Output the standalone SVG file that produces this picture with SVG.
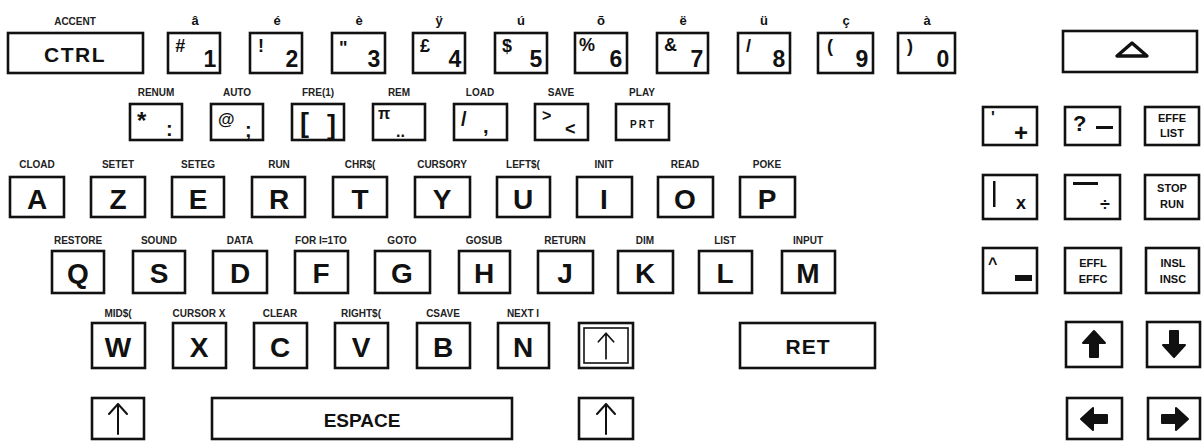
<svg xmlns="http://www.w3.org/2000/svg" width="1202" height="441" viewBox="0 0 1202 441">
<style>
.k{fill:#fff;stroke:#111;stroke-width:2.6}
.ki{fill:none;stroke:#111;stroke-width:1.6}
text{font-family:"Liberation Sans",Arial,sans-serif;font-weight:bold;fill:#111}
.lbl{font-size:10px;text-anchor:middle;fill:#222}
.acc{font-size:13px;text-anchor:middle}
.big{font-size:28px;text-anchor:middle}
.dg{font-size:23px;text-anchor:middle}
.sy{font-size:18px}
.sm{font-size:11px;text-anchor:middle}
.thin{fill:none;stroke:#111;stroke-width:2;stroke-linecap:round;stroke-linejoin:round}
.fa{fill:#111;stroke:#111;stroke-width:2;stroke-linejoin:round}
</style>
<defs>
<path id="fat" d="M0 -13 L11 -1 L4 -1 L4 13 L-4 13 L-4 -1 L-11 -1 Z"/>
<path id="thinup" d="M0 -15 L0 15 M-9 -5 L0 -15 L9 -5"/>
</defs>
<rect width="1202" height="441" fill="#fff"/>

<!-- Row 1 -->
<g id="key-ctrl"><text class="lbl" x="75" y="25">ACCENT</text><rect class="k" x="8" y="33" width="135" height="40"/><text x="75" y="62" font-size="21" text-anchor="middle" letter-spacing="1.5">CTRL</text></g>
<g id="key-1"><text class="acc" x="195" y="25">â</text><rect class="k" x="168" y="33" width="52" height="40"/><text class="sy" x="175" y="52" font-style="italic">#</text><text class="dg" x="210" y="67">1</text></g>
<g id="key-2"><text class="acc" x="277" y="25">é</text><rect class="k" x="250" y="33" width="52" height="40"/><text class="sy" x="258" y="52">!</text><text class="dg" x="292" y="67">2</text></g>
<g id="key-3"><text class="acc" x="359" y="25">è</text><rect class="k" x="332" y="33" width="53" height="40"/><text class="sy" x="339" y="54">"</text><text class="dg" x="374" y="67">3</text></g>
<g id="key-4"><text class="acc" x="439" y="25">ÿ</text><rect class="k" x="413" y="33" width="52" height="40"/><text class="sy" x="420" y="52">£</text><text class="dg" x="455" y="67">4</text></g>
<g id="key-5"><text class="acc" x="521" y="25">ú</text><rect class="k" x="495" y="33" width="52" height="40"/><text class="sy" x="502" y="52">$</text><text class="dg" x="536" y="67">5</text></g>
<g id="key-6"><text class="acc" x="601" y="25">õ</text><rect class="k" x="575" y="33" width="52" height="40"/><text class="sy" x="579" y="51">%</text><text class="dg" x="616" y="67">6</text></g>
<g id="key-7"><text class="acc" x="683" y="25">ë</text><rect class="k" x="657" y="33" width="51" height="40"/><text class="sy" x="664" y="51">&amp;</text><text class="dg" x="697" y="67">7</text></g>
<g id="key-8"><text class="acc" x="764" y="25">ü</text><rect class="k" x="738" y="33" width="52" height="40"/><text class="sy" x="746" y="52">/</text><text class="dg" x="779" y="67">8</text></g>
<g id="key-9"><text class="acc" x="846" y="25">ç</text><rect class="k" x="818" y="33" width="55" height="40"/><text class="sy" x="827" y="52">(</text><text class="dg" x="862" y="67">9</text></g>
<g id="key-0"><text class="acc" x="927" y="25">à</text><rect class="k" x="898" y="33" width="57" height="40"/><text class="sy" x="907" y="52">)</text><text class="dg" x="943" y="67">0</text></g>
<g id="key-up-triangle"><rect class="k" x="1063" y="31" width="134" height="41"/><path d="M1117 56 L1132 43 L1147 56 Z" fill="none" stroke="#111" stroke-width="3.4" stroke-linejoin="round"/></g>

<!-- Row 2 -->
<g id="key-colon"><text class="lbl" x="156" y="96">RENUM</text><rect class="k" x="130" y="104" width="52" height="36"/><text x="137" y="129" font-size="24">*</text><text x="166" y="136" font-size="20">:</text></g>
<g id="key-semicolon"><text class="lbl" x="237" y="96">AUTO</text><rect class="k" x="211" y="104" width="52" height="36"/><text x="218" y="125" font-size="17">@</text><text x="245" y="137" font-size="20">;</text></g>
<g id="key-bracket"><text class="lbl" x="318" y="96">FRE(1)</text><rect class="k" x="292" y="104" width="52" height="36"/><text x="300" y="132" font-size="27">[</text><text x="327" y="134" font-size="27">]</text></g>
<g id="key-pi"><text class="lbl" x="399" y="96">REM</text><rect class="k" x="373" y="104" width="52" height="36"/><text x="378" y="119" font-size="16">π</text><text x="396" y="137" font-size="16">..</text></g>
<g id="key-comma"><text class="lbl" x="480" y="96">LOAD</text><rect class="k" x="454" y="104" width="53" height="36"/><text x="461" y="126" font-size="20">/</text><text x="483" y="133" font-size="20">,</text></g>
<g id="key-lt"><text class="lbl" x="561" y="96">SAVE</text><rect class="k" x="535" y="104" width="53" height="36"/><text x="542" y="121" font-size="16">&gt;</text><text x="565" y="135" font-size="18">&lt;</text></g>
<g id="key-prt"><text class="lbl" x="642" y="96">PLAY</text><rect class="k" x="616" y="104" width="53" height="36"/><text x="643" y="128" font-size="10" text-anchor="middle" letter-spacing="2">PRT</text></g>

<!-- Row 3 -->
<g id="key-a"><text class="lbl" x="37" y="168">CLOAD</text><rect class="k" x="10" y="177" width="54" height="40"/><text class="big" x="37" y="209">A</text></g>
<g id="key-z"><text class="lbl" x="118" y="168">SETET</text><rect class="k" x="91" y="177" width="54" height="40"/><text class="big" x="118" y="209">Z</text></g>
<g id="key-e"><text class="lbl" x="198" y="168">SETEG</text><rect class="k" x="172" y="177" width="52" height="40"/><text class="big" x="198" y="209">E</text></g>
<g id="key-r"><text class="lbl" x="279" y="168">RUN</text><rect class="k" x="252" y="177" width="53" height="40"/><text class="big" x="279" y="209">R</text></g>
<g id="key-t"><text class="lbl" x="360" y="168">CHR$(</text><rect class="k" x="333" y="177" width="54" height="40"/><text class="big" x="360" y="209">T</text></g>
<g id="key-y"><text class="lbl" x="442" y="168">CURSORY</text><rect class="k" x="415" y="177" width="55" height="40"/><text class="big" x="442" y="209">Y</text></g>
<g id="key-u"><text class="lbl" x="523" y="168">LEFT$(</text><rect class="k" x="497" y="177" width="53" height="40"/><text class="big" x="523" y="209">U</text></g>
<g id="key-i"><text class="lbl" x="604" y="168">INIT</text><rect class="k" x="577" y="177" width="55" height="40"/><text class="big" x="604" y="209">I</text></g>
<g id="key-o"><text class="lbl" x="685" y="168">READ</text><rect class="k" x="658" y="177" width="55" height="40"/><text class="big" x="685" y="209">O</text></g>
<g id="key-p"><text class="lbl" x="767" y="168">POKE</text><rect class="k" x="740" y="177" width="55" height="40"/><text class="big" x="767" y="209">P</text></g>

<!-- Row 4 -->
<g id="key-q"><text class="lbl" x="78" y="244">RESTORE</text><rect class="k" x="52" y="251" width="52" height="42"/><text class="big" x="78" y="283">Q</text></g>
<g id="key-s"><text class="lbl" x="159" y="244">SOUND</text><rect class="k" x="133" y="251" width="52" height="42"/><text class="big" x="159" y="283">S</text></g>
<g id="key-d"><text class="lbl" x="240" y="244">DATA</text><rect class="k" x="213" y="251" width="54" height="42"/><text class="big" x="240" y="283">D</text></g>
<g id="key-f"><text class="lbl" x="321" y="244">FOR I=1TO</text><rect class="k" x="295" y="251" width="53" height="42"/><text class="big" x="321" y="283">F</text></g>
<g id="key-g"><text class="lbl" x="402" y="244">GOTO</text><rect class="k" x="375" y="251" width="55" height="42"/><text class="big" x="402" y="283">G</text></g>
<g id="key-h"><text class="lbl" x="484" y="244">GOSUB</text><rect class="k" x="459" y="251" width="51" height="42"/><text class="big" x="484" y="283">H</text></g>
<g id="key-j"><text class="lbl" x="565" y="244">RETURN</text><rect class="k" x="538" y="251" width="55" height="42"/><text class="big" x="565" y="283">J</text></g>
<g id="key-k"><text class="lbl" x="645" y="244">DIM</text><rect class="k" x="618" y="251" width="55" height="42"/><text class="big" x="645" y="283">K</text></g>
<g id="key-l"><text class="lbl" x="725" y="244">LIST</text><rect class="k" x="699" y="251" width="53" height="42"/><text class="big" x="725" y="283">L</text></g>
<g id="key-m"><text class="lbl" x="808" y="244">INPUT</text><rect class="k" x="782" y="251" width="53" height="42"/><text class="big" x="808" y="283">M</text></g>

<!-- Row 5 -->
<g id="key-w"><text class="lbl" x="118" y="317">MID$(</text><rect class="k" x="92" y="323" width="53" height="45"/><text class="big" x="118" y="357">W</text></g>
<g id="key-x"><text class="lbl" x="199" y="317">CURSOR X</text><rect class="k" x="173" y="323" width="53" height="45"/><text class="big" x="199" y="357">X</text></g>
<g id="key-c"><text class="lbl" x="280" y="317">CLEAR</text><rect class="k" x="254" y="323" width="53" height="45"/><text class="big" x="280" y="357">C</text></g>
<g id="key-v"><text class="lbl" x="361" y="317">RIGHT$(</text><rect class="k" x="335" y="323" width="53" height="45"/><text class="big" x="361" y="357">V</text></g>
<g id="key-b"><text class="lbl" x="443" y="317">CSAVE</text><rect class="k" x="417" y="323" width="53" height="45"/><text class="big" x="443" y="357">B</text></g>
<g id="key-n"><text class="lbl" x="523" y="317">NEXT I</text><rect class="k" x="498" y="323" width="51" height="45"/><text class="big" x="523" y="357">N</text></g>
<g id="key-shiftlock"><rect class="k" x="579" y="323" width="54" height="45"/><rect class="ki" x="584" y="328" width="44" height="35"/><use href="#thinup" class="thin" transform="translate(606 346) scale(0.85)"/></g>
<g id="key-ret"><rect class="k" x="740" y="323" width="135" height="45"/><text x="808" y="354" font-size="21" text-anchor="middle" letter-spacing="1">RET</text></g>

<!-- Row 6 -->
<g id="key-shift-left"><rect class="k" x="92" y="398" width="52" height="41"/><use href="#thinup" class="thin" transform="translate(118 419)"/></g>
<g id="key-space"><rect class="k" x="212" y="398" width="300" height="41"/><text x="362" y="427" font-size="19" text-anchor="middle">ESPACE</text></g>
<g id="key-shift-right"><rect class="k" x="579" y="398" width="54" height="41"/><use href="#thinup" class="thin" transform="translate(606 419)"/></g>

<!-- Keypad -->
<g id="key-plus"><rect class="k" x="983" y="107" width="54" height="38"/><text x="991" y="123" font-size="16">'</text><text x="1021" y="141" font-size="24" text-anchor="middle">+</text></g>
<g id="key-minus"><rect class="k" x="1065" y="107" width="55" height="38"/><text x="1073" y="131" font-size="22">?</text><rect x="1096" y="126" width="17" height="3" fill="#111"/></g>
<g id="key-effe-list"><rect class="k" x="1145" y="107" width="54" height="38"/><text class="sm" x="1172" y="122">EFFE</text><text class="sm" x="1172" y="137">LIST</text></g>
<g id="key-times"><rect class="k" x="983" y="175" width="54" height="44"/><rect x="993" y="181" width="2.5" height="26" fill="#111"/><text x="1021" y="209" font-size="18" text-anchor="middle">x</text></g>
<g id="key-divide"><rect class="k" x="1065" y="175" width="55" height="44"/><rect x="1073" y="182" width="25" height="3" fill="#111"/><text x="1105" y="211" font-size="18" text-anchor="middle">÷</text></g>
<g id="key-stop-run"><rect class="k" x="1145" y="175" width="54" height="44"/><text class="sm" x="1172" y="192">STOP</text><text class="sm" x="1172" y="208">RUN</text></g>
<g id="key-caret"><rect class="k" x="983" y="248" width="54" height="45"/><text x="988" y="269" font-size="16">^</text><rect x="1015" y="275" width="17" height="6" fill="#111"/></g>
<g id="key-effl-effc"><rect class="k" x="1065" y="248" width="56" height="45"/><text class="sm" x="1093" y="267">EFFL</text><text class="sm" x="1093" y="283">EFFC</text></g>
<g id="key-insl-insc"><rect class="k" x="1146" y="248" width="53" height="45"/><text class="sm" x="1173" y="267">INSL</text><text class="sm" x="1173" y="283">INSC</text></g>
<g id="key-arrow-up"><rect class="k" x="1066" y="322" width="56" height="45"/><use href="#fat" class="fa" transform="translate(1094 344)"/></g>
<g id="key-arrow-down"><rect class="k" x="1147" y="322" width="53" height="45"/><use href="#fat" class="fa" transform="translate(1174 344) rotate(180)"/></g>
<g id="key-arrow-left"><rect class="k" x="1067" y="398" width="55" height="41"/><use href="#fat" class="fa" transform="translate(1094 419) rotate(-90)"/></g>
<g id="key-arrow-right"><rect class="k" x="1148" y="398" width="52" height="41"/><use href="#fat" class="fa" transform="translate(1175 419) rotate(90)"/></g>
<g id="connectors"></g>
</svg>
